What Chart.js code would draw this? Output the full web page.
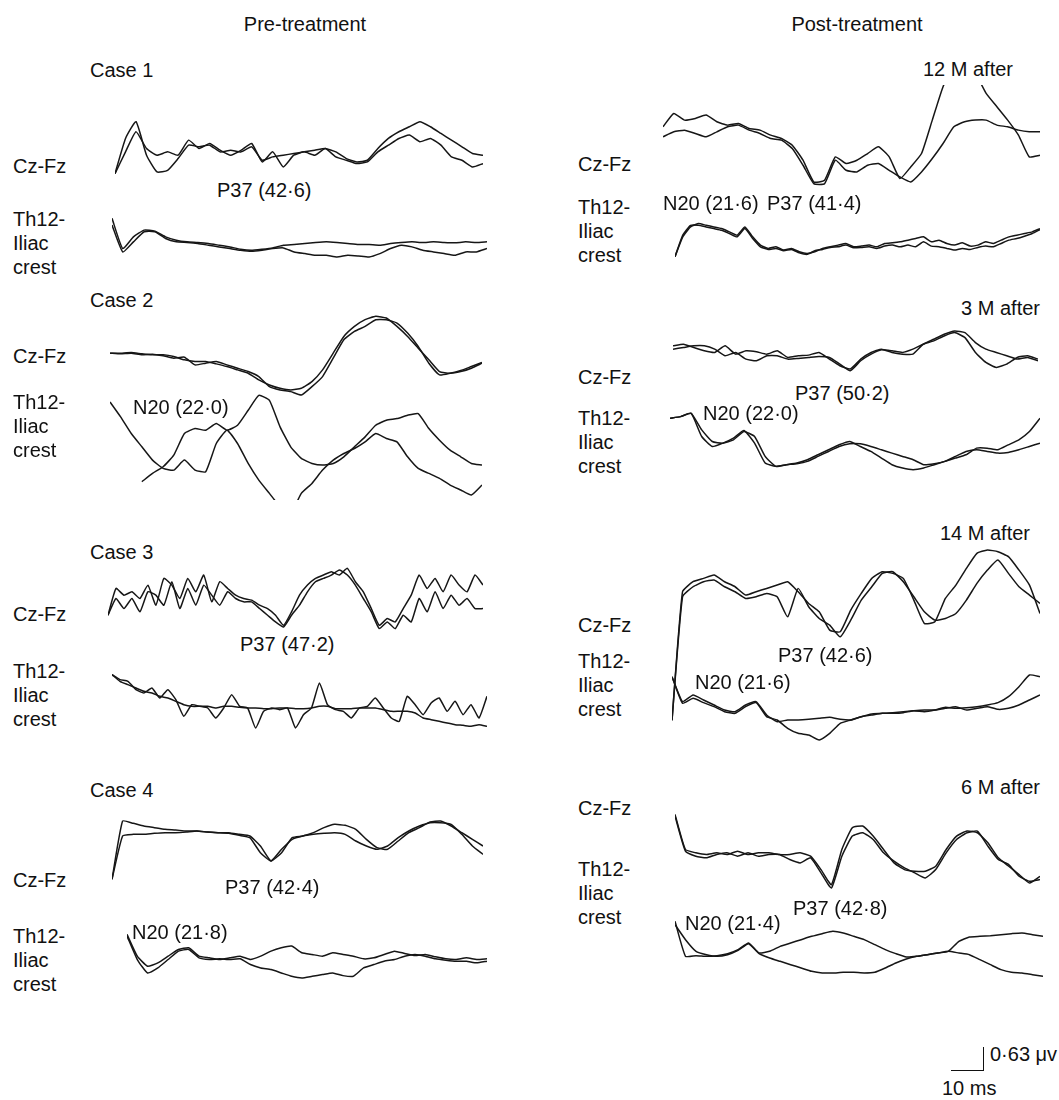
<!DOCTYPE html>
<html>
<head>
<meta charset="utf-8">
<script src="https://cdn.jsdelivr.net/npm/chart.js@4.4.1/dist/chart.umd.min.js"></script>
<style>
  body { margin: 0; background: #fff; }
  #fig { position: relative; width: 1059px; height: 1100px; background: #fff; overflow: hidden; }
  #fig canvas { position: absolute; }
  .lbl { position: absolute; font-family: "Liberation Sans", Arial, sans-serif; font-size: 20px;
         line-height: 24px; color: #111; white-space: pre; }
</style>
</head>
<body>
<div id="fig"></div>
<script>
// amplitudes in arbitrary units (3 units = 1 px), up = positive, equally spaced in time

// Pre-treatment, case 1
const case1CzA = [-65, 40, 90, -10, -60, -55, -20, 20, 15, 20, 0, 5, 0, 15, -25, -15, -10, -5, 0, 5, 10, 0, -20, -30, -25, 10, 40, 60, 75, 90, 75, 55, 35, 15, -5, -10];
const case1CzB = [-65, 0, 60, 10, -10, 0, -10, 35, 10, 25, 5, -10, 5, 25, -30, 0, -45, -10, 0, -10, 10, -15, -25, -35, -30, 0, 20, 40, 50, 30, 40, 20, -15, -25, -45, -35];
const case1ThA = [80, -10, 25, 45, 42, 25, 15, 10, 8, 5, 0, -5, -12, -15, -12, -8, 0, 2, 5, 8, 10, 8, 5, 2, 2, 0, 5, 8, 10, 8, 10, 8, 7, 10, 8, 10];
const case1ThB = [60, -20, 10, 40, 40, 20, 10, 8, 5, 0, -5, -10, -15, -18, -15, -10, -8, -20, -25, -30, -30, -35, -30, -32, -35, -25, -10, 0, -5, -15, -20, -25, -30, -20, -20, -10];

// case 2
const case2CzA = [0, 0, 2, -2, -5, -5, -10, -20, -25, -25, -32, -40, -50, -60, -80, -95, -105, -110, -105, -85, -50, 0, 50, 80, 100, 110, 105, 80, 50, 15, -20, -55, -60, -55, -45, -30];
const case2CzB = [0, -2, 0, -5, -3, -8, -15, -12, -35, -30, -25, -35, -45, -55, -70, -100, -110, -115, -125, -100, -70, -15, 40, 65, 80, 100, 100, 90, 60, 20, -30, -65, -60, -52, -40, -28];
const case2ThA = [145, 100, 50, 10, -30, -55, -60, -30, -60, -65, 20, 60, 20, -40, -90, -130, -170, -190, -130, -100, -60, -30, -10, 5, 25, 50, 35, 25, -20, -55, -70, -85, -105, -120, -135, -105];
const case2ThB = [null, null, null, -95, -70, -50, -15, 50, 65, 60, 80, 60, 75, 120, 165, 150, 70, 10, -25, -40, -45, -40, -20, 10, 40, 75, 90, 95, 105, 110, 65, 30, 0, -20, -40, -45];

// case 3
const case3CzA = [-50, 30, 10, 20, 0, 40, -20, 60, 40, 0, 60, 20, 70, -10, 50, 30, 10, 0, -5, -20, -30, -50, -80, -40, 10, 40, 60, 70, 80, 70, 90, 50, 20, -30, -80, -60, -70, -30, 10, 70, 30, 60, 20, 70, 40, 20, 70, 40];
const case3CzB = [-50, 0, -30, 0, -40, 20, 10, -20, 50, -30, 30, -20, 40, 10, -20, 20, 0, -10, -10, -30, -50, -70, -85, -50, -20, 20, 50, 60, 70, 85, 70, 40, 0, -40, -90, -70, -90, -50, -70, 0, -40, 20, -30, 10, -20, 0, -30, -30];
const case3ThA = [100, 85, 80, 55, 45, 60, 30, 55, 25, -25, 10, 5, 0, -30, 0, 40, 5, 0, -60, -10, 0, -5, 0, -60, -20, 0, 75, 10, -5, -10, -30, 0, 5, 30, 0, -30, -40, 35, 10, -20, 15, 30, -10, 20, -20, 10, -30, 35];
const case3ThB = [100, 80, 70, 60, 50, 45, 35, 30, 20, 10, 5, 5, 5, 0, 5, 5, 2, 0, 0, -2, -2, 0, 0, -2, -2, 0, 5, 5, -2, -2, -2, 0, 0, 0, -5, -10, -10, -10, -15, -30, -35, -40, -45, -50, -52, -55, -50, -55];

// case 4
const case4CzA = [-140, 35, 28, 20, 15, 10, 8, 5, 5, 2, 0, 0, -5, -10, -40, -85, -60, -15, -10, 0, 15, 25, 22, 10, -20, -45, -50, -25, 0, 15, 32, 35, 20, 0, -20, -40];
const case4CzB = [-140, -10, -5, -5, -2, 0, 0, 2, 5, 2, 0, -2, -8, -15, -60, -85, -50, -20, -10, -5, -2, 0, -5, -25, -40, -50, -40, -15, 5, 20, 30, 30, 25, -5, -40, -65];
const case4ThA = [70, 5, -25, -15, 5, 25, 30, 5, 0, -5, 0, 5, -5, 5, 20, 30, 35, 15, 10, 5, 15, 10, 5, -3, 0, 10, 20, 13, 7, 10, 3, -3, -5, 0, -5, -3];
const case4ThB = [65, -5, -45, -30, -5, 20, 25, 0, -5, -3, -5, -3, -20, -30, -35, -45, -55, -60, -55, -50, -45, -53, -55, -30, -20, -10, -5, 5, 10, 5, -3, -7, -10, -10, -15, -10];

// Post-treatment, 12 M after
const m12CzA = [0, 40, 20, 25, 35, 15, 5, 10, -5, -10, -25, -35, -55, -100, -165, -160, -90, -110, -100, -80, -60, -90, -155, -120, -80, 20, 120, 180, 190, 160, 100, 60, 20, -25, -90, -85];
const m12CzB = [-30, -15, -10, -20, -30, -15, 0, 5, -10, -20, -35, -40, -65, -115, -170, -170, -100, -130, -135, -115, -110, -130, -150, -165, -135, -95, -50, 0, 15, 20, 20, 5, 0, -10, -15, -15];
const m12ThA = [-30, 30, 60, 70, 65, 60, 55, 45, 35, 60, 30, 5, -5, 0, -10, -5, -15, -20, -15, -5, 0, 5, 10, 0, 2, 5, 0, 10, 12, 15, 20, 25, 30, 15, 20, 10, 5, 12, 2, 5, 15, 10, 20, 30, 35, 40, 45, 55];
const m12ThB = [-30, 35, 65, 65, 60, 55, 50, 40, 30, 55, 25, 0, -8, -5, -12, -8, -18, -23, -12, -8, -2, 0, 5, -3, -2, 0, -5, 2, 5, 0, 5, 0, 15, 2, 0, -5, -10, -5, -8, -2, 2, 0, 10, 20, 25, 32, 40, 52];

// 3 M after
const m3CzA = [20, 25, 15, 5, 0, 20, -5, 5, 2, -5, 5, -15, -10, -8, 0, -20, -40, -50, -20, 0, 10, 0, -5, -5, 25, 40, 55, 65, 60, 30, 10, 0, -10, -20, -15, -25];
const m3CzB = [10, 15, 20, 20, 10, -10, 0, -20, -25, -10, -10, -20, -18, -15, -12, -15, -35, -55, -25, -5, 8, 5, 0, 10, 25, 35, 50, 60, 45, 0, -30, -45, -35, -15, -10, -20];
const m3ThA = [115, 120, 130, 80, 45, 40, 50, 75, 60, 0, -30, -25, -20, -10, 5, 20, 35, 45, 30, 15, -5, -25, -35, -40, -35, -25, -15, -5, 5, 25, 25, 20, 35, 50, 75, 115];
const m3ThB = [115, 120, 130, 60, 30, 40, 55, 78, 40, -20, -30, -25, -22, -15, 0, 15, 30, 38, 38, 30, 20, 10, 0, -10, -25, -22, -15, 0, 15, 20, 15, 10, 12, 20, 30, 40];

// 14 M after
const m14CzA = [-380, 5, 35, 45, 55, 35, 20, -5, 5, 15, 25, 35, 5, -30, -55, -110, -115, -50, 0, 45, 65, 60, 45, -20, -90, -85, -15, 25, 75, 120, 130, 125, 110, 70, 25, -60];
const m14CzB = [-380, -10, 20, 35, 40, 20, 5, -15, -10, 0, -10, -70, 15, -40, -75, -95, -130, -80, -20, 20, 60, 65, 35, -10, -55, -80, -75, -60, -20, 30, 70, 100, 60, 20, -5, -30];
const m14ThA = [110, 35, 55, 40, 25, 10, 5, 25, 35, -5, -25, -20, -20, -18, -15, -12, -18, -20, -10, -2, 0, 0, 2, 8, 5, 10, 18, 15, 17, 20, 25, 32, 50, 80, 115, 110];
const m14ThB = [110, 30, 45, 32, 20, 5, 0, 20, 32, -10, -20, -45, -60, -65, -80, -60, -30, -20, -10, -5, 0, 2, 5, 8, 10, 10, 15, 20, 10, 15, 20, 12, 15, 25, 40, 55];

// 6 M after
const m6CzA = [115, 10, 0, -5, 0, -5, 5, -5, 0, 0, -5, -5, 0, -10, -50, -95, 10, 75, 80, 50, 10, -30, -50, -55, -55, -40, 10, 50, 65, 60, 30, -15, -40, -65, -90, -70];
const m6CzB = [110, 5, -10, -15, -5, 0, -10, 0, -10, -5, -5, -20, -30, -15, -60, -105, -10, 50, 60, 40, 0, -25, -45, -60, -75, -50, 0, 40, 60, 65, 20, -20, -35, -70, -85, -80];
const m6ThA = [95, -10, -8, -10, -8, -2, 10, 30, 0, 5, 20, 30, 40, 50, 58, 65, 60, 50, 40, 25, 10, -2, -12, -10, -5, 0, 5, 35, 48, 50, 52, 55, 58, 60, 55, 50];
const m6ThB = [85, 40, 5, -5, -10, -5, 8, 28, -2, -15, -25, -35, -45, -55, -60, -60, -58, -58, -60, -58, -45, -30, -18, -10, -5, 0, 5, 0, -5, -20, -35, -50, -58, -60, -65, -70];

const UNIT_PX = 1 / 3;

// where each trace pair sits: x span and the page y of zero amplitude
const panels = [
  { a: case1CzA, b: case1CzB, left: 115, right: 483, zero: 152, yMin: -75, yMax: 110 },
  { a: case1ThA, b: case1ThB, left: 112, right: 487, zero: 245, yMin: -50, yMax: 90 },
  { a: case2CzA, b: case2CzB, left: 110, right: 482, zero: 353, yMin: -140, yMax: 120 },
  { a: case2ThA, b: case2ThB, left: 110, right: 482, zero: 450, yMin: -150, yMax: 175 },
  { a: case3CzA, b: case3CzB, left: 108, right: 483, zero: 598, yMin: -100, yMax: 100 },
  { a: case3ThA, b: case3ThB, left: 112, right: 487, zero: 708, yMin: -75, yMax: 120 },
  { a: case4CzA, b: case4CzB, left: 112, right: 483, zero: 833, yMin: -145, yMax: 50 },
  { a: case4ThA, b: case4ThB, left: 127, right: 487, zero: 958, yMin: -75, yMax: 80 },
  { a: m12CzA, b: m12CzB, left: 663, right: 1040, zero: 127, yMin: -195, yMax: 125 },
  { a: m12ThA, b: m12ThB, left: 675, right: 1040, zero: 247, yMin: -40, yMax: 90 },
  { a: m3CzA, b: m3CzB, left: 673, right: 1038, zero: 353, yMin: -65, yMax: 80 },
  { a: m3ThA, b: m3ThB, left: 670, right: 1040, zero: 457, yMin: -50, yMax: 140 },
  { a: m14CzA, b: m14CzB, left: 672, right: 1040, zero: 593, yMin: -385, yMax: 145 },
  { a: m14ThA, b: m14ThB, left: 672, right: 1040, zero: 713, yMin: -95, yMax: 130 },
  { a: m6CzA, b: m6CzB, left: 675, right: 1040, zero: 853, yMin: -120, yMax: 125 },
  { a: m6ThA, b: m6ThB, left: 675, right: 1043, zero: 953, yMin: -75, yMax: 105 }
];

const texts = [
  { t: "Pre-treatment", x: 305, y: 24, align: "center" },
  { t: "Post-treatment", x: 857, y: 24, align: "center" },
  { t: "Case 1", x: 90, y: 70 }, { t: "Case 2", x: 90, y: 300 },
  { t: "Case 3", x: 90, y: 552 }, { t: "Case 4", x: 90, y: 790 },
  { t: "12 M after", x: 1013, y: 69, align: "right" },
  { t: "3 M after", x: 1040, y: 308, align: "right" },
  { t: "14 M after", x: 1030, y: 533, align: "right" },
  { t: "6 M after", x: 1040, y: 787, align: "right" },
  { t: "Cz-Fz", x: 13, y: 166 }, { t: "Cz-Fz", x: 13, y: 356 },
  { t: "Cz-Fz", x: 13, y: 614 }, { t: "Cz-Fz", x: 13, y: 880 },
  { t: "Cz-Fz", x: 578, y: 164 }, { t: "Cz-Fz", x: 578, y: 377 },
  { t: "Cz-Fz", x: 578, y: 625 }, { t: "Cz-Fz", x: 578, y: 808 },
  { t: "Th12-\nIliac\ncrest", x: 13, y: 219 }, { t: "Th12-\nIliac\ncrest", x: 13, y: 402 },
  { t: "Th12-\nIliac\ncrest", x: 13, y: 671 }, { t: "Th12-\nIliac\ncrest", x: 13, y: 936 },
  { t: "Th12-\nIliac\ncrest", x: 578, y: 207 }, { t: "Th12-\nIliac\ncrest", x: 578, y: 418 },
  { t: "Th12-\nIliac\ncrest", x: 578, y: 661 }, { t: "Th12-\nIliac\ncrest", x: 578, y: 869 },
  { t: "P37 (42·6)", x: 217, y: 190 }, { t: "N20 (22·0)", x: 133, y: 407 },
  { t: "P37 (47·2)", x: 240, y: 644 }, { t: "P37 (42·4)", x: 225, y: 887 },
  { t: "N20 (21·8)", x: 132, y: 932 },
  { t: "N20 (21·6)", x: 663, y: 203 }, { t: "P37 (41·4)", x: 767, y: 203 },
  { t: "P37 (50·2)", x: 795, y: 393 }, { t: "N20 (22·0)", x: 703, y: 413 },
  { t: "P37 (42·6)", x: 778, y: 655 }, { t: "N20 (21·6)", x: 695, y: 682 },
  { t: "P37 (42·8)", x: 793, y: 908 }, { t: "N20 (21·4)", x: 685, y: 923 },
  { t: "0·63 μv", x: 990, y: 1054 }, { t: "10 ms", x: 942, y: 1088 }
];

const fig = document.getElementById("fig");

panels.forEach(p => {
  const cv = document.createElement("canvas");
  const w = p.right - p.left;
  const h = Math.round((p.yMax - p.yMin) * UNIT_PX);
  cv.width = w;
  cv.height = h;
  cv.style.left = p.left + "px";
  cv.style.top = Math.round(p.zero - p.yMax * UNIT_PX) + "px";
  fig.appendChild(cv);

  const line = data => ({
    data: data,
    borderColor: "#161616",
    borderWidth: 1.5,
    pointRadius: 0,
    tension: 0.15,
    fill: false,
    spanGaps: false
  });

  new Chart(cv, {
    type: "line",
    data: {
      labels: p.a.map((_, i) => i),
      datasets: [line(p.a), line(p.b)]
    },
    options: {
      responsive: false,
      animation: false,
      events: [],
      layout: { padding: 0 },
      plugins: { legend: { display: false }, tooltip: { enabled: false } },
      scales: {
        x: { display: false, offset: false },
        y: { display: false, min: p.yMin, max: p.yMax }
      }
    }
  });
});

texts.forEach(o => {
  const d = document.createElement("div");
  d.className = "lbl";
  d.textContent = o.t;
  d.style.top = (o.y - 12) + "px";
  if (o.align === "center") {
    d.style.left = (o.x - 100) + "px";
    d.style.width = "200px";
    d.style.textAlign = "center";
  } else if (o.align === "right") {
    d.style.right = (1059 - o.x) + "px";
  } else {
    d.style.left = o.x + "px";
  }
  fig.appendChild(d);
});

// scale bar
const bar = document.createElement("div");
bar.style.cssText = "position:absolute;left:951px;top:1047px;width:32px;height:23px;" +
  "border-right:1.5px solid #111;border-bottom:1.5px solid #111;";
fig.appendChild(bar);
</script>
</body>
</html>
